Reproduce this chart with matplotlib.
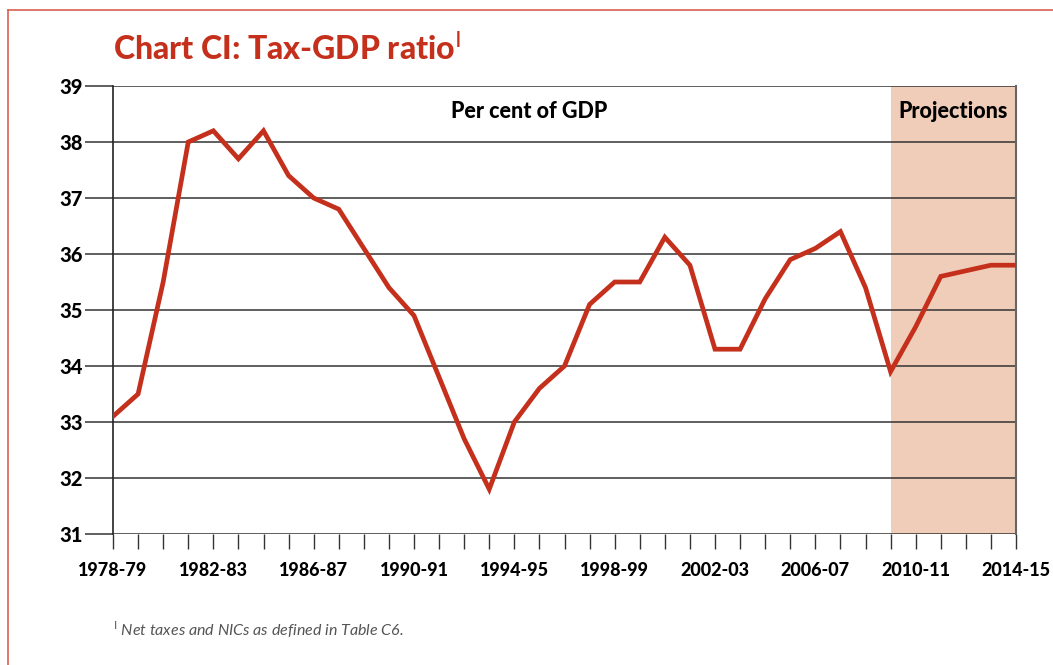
import matplotlib
matplotlib.use("Agg")
import matplotlib.pyplot as plt
from matplotlib.lines import Line2D

# Fiscal years 1978-79 .. 2014-15
years = [f"{y}-{str(y + 1)[-2:]}" for y in range(1978, 2015)]
tax_gdp = [33.1, 33.5, 35.5, 38.0, 38.2, 37.7, 38.2, 37.4, 37.0, 36.8,
           36.1, 35.4, 34.9, 33.8, 32.7, 31.8, 33.0, 33.6, 34.0, 35.1,
           35.5, 35.5, 36.3, 35.8, 34.3, 34.3, 35.2, 35.9, 36.1, 36.4,
           35.4, 33.9, 34.7, 35.6, 35.7, 35.8, 35.8]
projection_start = "2009-10"
y_ticks = [31, 32, 33, 34, 35, 36, 37, 38, 39]
x_label_years = ["1978-79", "1982-83", "1986-87", "1990-91", "1994-95",
                 "1998-99", "2002-03", "2006-07", "2010-11", "2014-15"]

RED = "#c4301c"
SHADE = "#f0cdb9"
FONT = "Lato"
HEAVY = 900

W, H = 1053, 665
fig = plt.figure(figsize=(W / 100, H / 100), dpi=100)
ax = fig.add_axes([113 / W, 1 - 534 / H, (1016 - 113) / W, (534 - 86) / H])

x = list(range(len(years)))
ax.set_xlim(0, len(years) - 1)
ax.set_ylim(31, 39)

# Projection period shading
ps = years.index(projection_start)
ax.axvspan(ps, len(years) - 1, color=SHADE, lw=0, zorder=0)

# Gridlines
for v in y_ticks:
    ax.axhline(v, color="#333333", lw=1.1, zorder=1)

ax.plot(x, tax_gdp, color=RED, lw=3.4, solid_joinstyle="miter", zorder=3)

# Spines
for s in ["top", "bottom"]:
    ax.spines[s].set_visible(False)
ax.spines["left"].set_color("#222222")
ax.spines["left"].set_linewidth(1.2)
ax.spines["right"].set_color("#666666")
ax.spines["right"].set_linewidth(1.5)

ax.set_yticks(y_ticks)
ax.set_yticklabels([str(v) for v in y_ticks], fontfamily=FONT,
                   fontweight=HEAVY, fontsize=14.5)
ax.tick_params(axis="y", length=20, width=1.1, color="#333333", pad=2)

ax.set_xticks(x, minor=True)
ax.set_xticks([years.index(y) for y in x_label_years])
ax.set_xticklabels(x_label_years, fontfamily=FONT, fontweight=HEAVY,
                   fontsize=13)
ax.tick_params(axis="x", which="both", length=11, width=1.0,
               color="#333333", pad=9)

ax.text(16.6, 38.55, "Per cent of GDP", ha="center", va="center",
        fontfamily=FONT, fontweight=HEAVY, fontsize=15.5)
ax.text((ps + len(years) - 1) / 2, 38.55, "Projections", ha="center",
        va="center", fontfamily=FONT, fontweight=HEAVY, fontsize=15.5)

fig.text(113 / W, 1 - 49 / H, "Chart CI: Tax-GDP ratio$^{\\mathsf{I}}$",
         ha="left", va="center", color=RED, fontfamily=FONT,
         fontweight=HEAVY, fontsize=23)

fig.text(113 / W, 1 - 630 / H, "$^{\\mathsf{I}}$ Net taxes and NICs as defined in Table C6.",
         ha="left", va="center", color="#555555", fontfamily=FONT,
         style="italic", fontsize=11.5)

# Page frame
fig.add_artist(Line2D([8 / W, 1], [1 - 10 / H, 1 - 10 / H],
                      transform=fig.transFigure, color="#d9604f", lw=1.2))
fig.add_artist(Line2D([8 / W, 8 / W], [1 - 10 / H, 0],
                      transform=fig.transFigure, color="#d9604f", lw=1.2))

fig.savefig("out.png", dpi=100)
